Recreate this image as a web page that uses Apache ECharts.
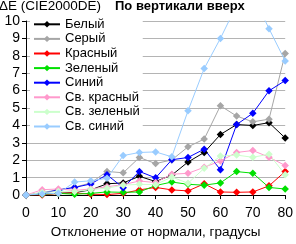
<!DOCTYPE html>
<html><head><meta charset="utf-8">
<script src="https://cdn.jsdelivr.net/npm/echarts@6/dist/echarts.min.js"></script>
<style>html,body{margin:0;padding:0;background:#fff}#c{width:296px;height:244px}</style>
</head><body><div id="c"></div>
<script>
const angles = [0,5,10,15,20,25,30,35,40,45,50,55,60,65,70,75,80];
const seriesNames = ['Белый','Серый','Красный','Зеленый','Синий','Св. красный','Св. зеленый','Св. синий'];
const white      = [0,0.05,0.1,0.15,0.3,0.65,0.7,1.08,0.78,1.15,1.9,2.45,3.48,4.05,4.0,4.16,3.28];
const gray       = [0,0.15,0.3,0.45,0.7,1.36,1.28,2.16,1.81,2.02,2.77,3.22,5.13,4.54,4.21,4.36,8.13];
const red        = [0,0,0.1,0.13,0.05,0.03,0.1,0.3,0.44,0.3,0.24,0.65,0.18,0.16,0.18,0.53,1.36];
const green      = [0,0.05,0.1,0.05,0.1,0.18,0.16,0.18,0.55,0.75,0.62,0.57,0.7,1.35,1.26,0.44,0.35];
const blue       = [0,0.1,0.3,0.44,0.64,1.17,0.42,1.36,0.99,2.03,2.16,2.64,1.45,4.05,4.7,5.99,6.58];
const lightRed   = [0,0.31,0.35,0.27,0.35,0.48,0.6,0.81,0.72,1.2,1.25,1.6,1.96,2.45,2.56,2.18,1.7];
const lightGreen = [0,0.15,0.2,0.2,0.31,0.4,0.57,0.62,0.6,1.04,0.68,1.54,2.24,2.3,2.17,2.35,1.17];
const lightBlue  = [0,0.07,0.1,0.75,0.82,0.97,2.27,2.45,2.48,2.2,4.84,7.27,9.0,10.9,11.5,9.56,7.7];
const yTicks = [0,1,2,3,4,5,6,7,8,9,10];
const xTicks = [0,10,20,30,40,50,60,70,80];

const values = [white, gray, red, green, blue, lightRed, lightGreen, lightBlue];
const colors = ['#000000','#a6a6a6','#ff0000','#00e000','#0000ff','#ff99cc','#ccffcc','#99ccff'];
const FONT = 'Liberation Sans';

const chart = echarts.init(document.getElementById('c'), null, {renderer:'canvas'});
chart.setOption({
  animation: false,
  backgroundColor: '#fff',
  title: [
    {text: 'По вертикали вверх', left: 115, top: 0, padding: 0,
     textStyle: {fontFamily: FONT, fontSize: 13, fontWeight: 'bold', color: '#000'}},
    {text: 'ΔE (CIE2000DE)', left: -1, top: -1, padding: 0,
     textStyle: {fontFamily: FONT, fontSize: 13.5, fontWeight: 'normal', color: '#000'}}
  ],
  grid: {left: 26, right: 6, top: 21, bottom: 41, containLabel: false},
  legend: {
    orient: 'vertical', left: 30, top: 15, padding: [2, 3, 3, 3],
    backgroundColor: '#fff', itemWidth: 26, itemHeight: 8, itemGap: 0,
    data: seriesNames,
    textStyle: {fontFamily: FONT, fontSize: 13, color: '#000', lineHeight: 14.6}
  },
  xAxis: {
    type: 'value', min: xTicks[0], max: xTicks[xTicks.length-1], interval: 10,
    name: 'Отклонение от нормали, градусы', nameLocation: 'middle', nameGap: 26,
    nameTextStyle: {fontFamily: FONT, fontSize: 13.5, color: '#000'},
    axisLine: {lineStyle: {color: '#000', width: 1}},
    axisTick: {show: true, length: 4, lineStyle: {color: '#000'}},
    axisLabel: {fontFamily: FONT, fontSize: 14, color: '#000', margin: 11},
    splitLine: {show: false}
  },
  yAxis: {
    type: 'value', min: yTicks[0], max: yTicks[yTicks.length-1], interval: 1,
    axisLine: {show: true, lineStyle: {color: '#000', width: 1}},
    axisTick: {show: true, length: 4, lineStyle: {color: '#000'}},
    axisLabel: {fontFamily: FONT, fontSize: 14, color: '#000', margin: 6},
    splitLine: {show: true, lineStyle: {color: '#b4b4b4', width: 1}}
  },
  series: seriesNames.map((n, i) => ({
    name: n, type: 'line', clip: true,
    data: angles.map((a, j) => [a, values[i][j]]),
    symbol: 'diamond', symbolSize: 7.5,
    lineStyle: {color: colors[i], width: 1},
    itemStyle: {color: colors[i]},
    emphasis: {disabled: true}
  }))
});
</script></body></html>
